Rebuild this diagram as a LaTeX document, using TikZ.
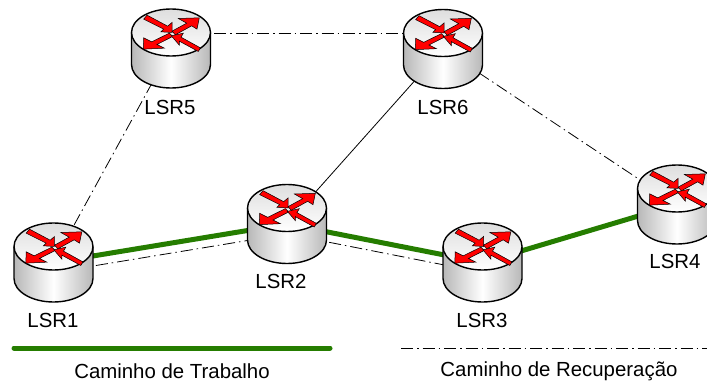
\documentclass[tikz,border=0pt]{standalone}
\usepackage{fontspec}
\setmainfont{Liberation Sans}
\definecolor{trabalho}{HTML}{257D00}
\tikzset{
  routernode/.style={inner sep=0pt,minimum width=79pt,minimum height=79pt},
  redarrow/.style={fill=red,draw=black,line width=0.5pt,line join=miter},
  worklink/.style={draw=trabalho,line width=5pt},
  backlink/.style={draw=black,line width=0.8pt,dash pattern=on 12pt off 4pt on 1.5pt off 4pt},
  lsrlabel/.style={font=\fontsize{20.4}{21}\selectfont,inner sep=0pt},
  router/.pic={
    \path[left color=black!28,right color=black!28,middle color=white]
      (-39.5,-16) -- (-39.5,16) arc[start angle=180,end angle=360,x radius=39.5pt,y radius=23.5pt] -- (39.5,-16) -- cycle;
    \draw[line width=1.4pt] (-39.5,-16) -- (-39.5,16) arc[start angle=180,end angle=360,x radius=39.5pt,y radius=23.5pt] -- (39.5,-16);
    \draw[line width=1.4pt,top color=black!13,bottom color=white] (0,-16) ellipse[x radius=39.5pt,y radius=23.5pt];
    % four arrows of the top face
    \begin{scope}[x=0.3333pt,y=-0.3333pt,xshift=-43.33pt,yshift=42.67pt]
      \draw[redarrow] (58,28) -- (120,61) -- (133,50) -- (133,80) -- (100,78) -- (108,70) -- (48,40) -- cycle;
      \draw[redarrow] (133,76) -- (177,52) -- (152,38) -- (215,36) -- (208,70) -- (192,60) -- (143,87) -- cycle;
      \draw[redarrow] (125,82) -- (72,108) -- (48,96) -- (47,130) -- (110,127) -- (88,116) -- (135,92) -- cycle;
      \draw[redarrow] (131,90) -- (167,82) -- (160,94) -- (218,126) -- (212,137) -- (155,106) -- (155,118) -- cycle;
    \end{scope}
  }
}
\begin{document}
\begin{tikzpicture}[x=1pt,y=-1pt]
  \useasboundingbox (0,0) rectangle (707,385);
  \node[routernode] (r1) at (53.5,262.5) {};
  \node[routernode] (r2) at (287,224) {};
  \node[routernode] (r3) at (482.5,262.5) {};
  \node[routernode] (r4) at (677,204.5) {};
  \node[routernode] (r5) at (171,48.5) {};
  \node[routernode] (r6) at (443,49) {};
  % recuperacao
  \draw[backlink] (r1.center) -- (r5.center);
  \draw[backlink] ([yshift=15.5pt]r5.center) -- ([yshift=16pt]r6.center);
  \draw[backlink] (r6.center) -- (r4.center);
  \draw[backlink] ([yshift=-10pt]r1.center) -- ([yshift=-10pt]r2.center);
  \draw[backlink] ([yshift=-10pt]r2.center) -- ([yshift=-10pt]r3.center);
  \draw[line width=0.8pt] (r6.center) -- (r2.center);
  % trabalho
  \draw[worklink] (r1.center) -- (r2.center);
  \draw[worklink] (r2.center) -- (r3.center);
  \draw[worklink] (r3.center) -- (r4.center);
  \pic at (r1) {router};
  \pic at (r2) {router};
  \pic at (r3) {router};
  \pic at (r4) {router};
  \pic at (r5) {router};
  \pic at (r6) {router};
  \node[lsrlabel] (t1) at (53,320) {LSR1};
  \node[lsrlabel] (t2) at (281,281) {LSR2};
  \node[lsrlabel] (t3) at (482,320) {LSR3};
  \node[lsrlabel] (t4) at (675,261) {LSR4};
  \node[lsrlabel] (t5) at (170,107) {LSR5};
  \node[lsrlabel] (t6) at (443,107) {LSR6};
  % legenda
  \coordinate (wa) at (14,348);
  \coordinate (wb) at (330,348);
  \coordinate (ba) at (401,348);
  \coordinate (bb) at (707,348);
  \draw[worklink,line cap=round] (wa) -- (wb);
  \draw[backlink] (ba) -- (bb);
  \node[lsrlabel] (lw) at (172,371) {Caminho de Trabalho};
  \node[lsrlabel] (lb) at (559,371) {Caminho de Recuperação};
\end{tikzpicture}
\end{document}
